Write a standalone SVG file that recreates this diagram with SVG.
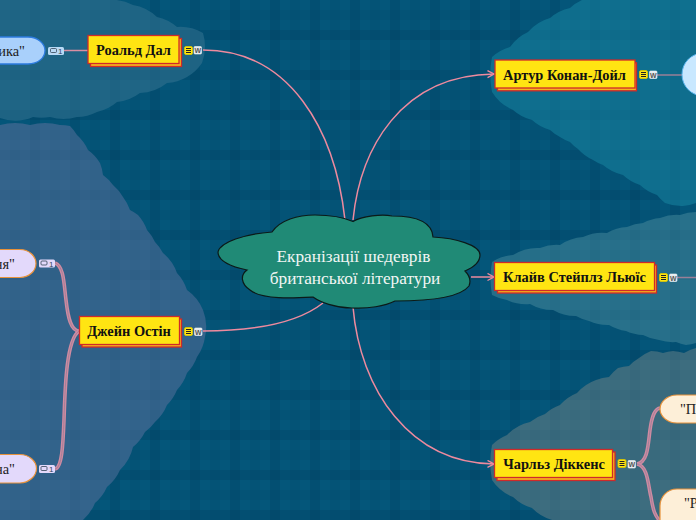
<svg xmlns="http://www.w3.org/2000/svg" width="696" height="520" viewBox="0 0 696 520">
<defs>
<pattern id="plaid" width="40" height="40" patternUnits="userSpaceOnUse">
<rect width="40" height="40" fill="#04567a"/>
<rect x="30" y="0" width="10" height="40" fill="#023a58" opacity="0.16"/>
<rect x="10" y="0" width="10" height="40" fill="#023a58" opacity="0.07"/>
<rect x="0" y="30" width="40" height="10" fill="#023a58" opacity="0.16"/>
<rect x="0" y="10" width="40" height="10" fill="#023a58" opacity="0.07"/>
</pattern>
<pattern id="plaidOver" width="40" height="40" patternUnits="userSpaceOnUse">
<rect x="30" y="0" width="10" height="40" fill="#023a58" opacity="0.06"/>
<rect x="10" y="0" width="10" height="40" fill="#023a58" opacity="0.03"/>
<rect x="0" y="30" width="40" height="10" fill="#023a58" opacity="0.06"/>
<rect x="0" y="10" width="40" height="10" fill="#023a58" opacity="0.03"/>
</pattern>
<marker id="arrow" markerWidth="9" markerHeight="10" refX="7.500" refY="4" orient="auto" markerUnits="userSpaceOnUse">
<path d="M1 0.500L7.500 4L1 7.500" fill="none" stroke="#ee8a9e" stroke-width="1.400"/>
</marker>
</defs>
<style>
.topic{fill:#ffe512;stroke:#cf2a2a;stroke-width:1.3}
.shadow{fill:#f6b51c;stroke:#cf2a2a;stroke-width:1.3}
.label{font-family:"Liberation Serif",serif;font-weight:bold;font-size:14.4px;fill:#111;text-anchor:middle}
.sub{font-family:"Liberation Serif",serif;font-size:14.4px;fill:#222}
.root{font-family:"Liberation Serif",serif;font-size:17.300px;fill:#f2f6f4;text-anchor:middle}
.link{fill:none;stroke:#ee8a9e;stroke-width:1.500}
.branch{fill:none;stroke:#cf8ba2;stroke-width:3.600}
.branchin{fill:none;stroke:#9a7d96;stroke-width:0.800}
.note{fill:#ffe512;stroke:#dcc800;stroke-width:0.800}
.noteline{stroke:#222;stroke-width:1;fill:none}
.wbox{fill:#e6ecef;stroke:#f6f8f9;stroke-width:0.600}
.w{font-family:"Liberation Sans",sans-serif;font-size:7px;fill:#555;text-anchor:middle;font-weight:bold}
.cnt{font-family:"Liberation Sans",sans-serif;font-size:8px;fill:#345}
.bub{fill:none;stroke:#345;stroke-width:0.800}
</style>
<rect width="696" height="520" fill="url(#plaid)"/>
<g id="regions">
<path d="M0 0H117A45 45 0 0 1 133 5A45 45 0 0 1 157 17A45 45 0 0 1 177 27A45 45 0 0 1 203 33A45 45 0 0 1 205 47A45 45 0 0 1 202 63A45 45 0 0 1 187 77A45 45 0 0 1 167 83A45 45 0 0 1 140 93A45 45 0 0 1 117 102A45 45 0 0 1 97 112A45 45 0 0 1 77 117A45 45 0 0 1 50 117A45 45 0 0 1 33 117A45 45 0 0 1 0 118Z" fill="#206686"/>
<path d="M0 125A60 60 0 0 1 30 125A60 60 0 0 1 60 125A45 45 0 0 1 70 126A45 45 0 0 1 77 135A45 45 0 0 1 88 150A45 45 0 0 1 100 163A45 45 0 0 1 103 175A45 45 0 0 1 113 185A45 45 0 0 1 123 197A45 45 0 0 1 130 210A45 45 0 0 1 138 215A45 45 0 0 1 147 230A45 45 0 0 1 155 242A45 45 0 0 1 163 253A45 45 0 0 1 177 273A45 45 0 0 1 187 290A45 45 0 0 1 203 310A45 45 0 0 1 205 337A45 45 0 0 1 197 357A45 45 0 0 1 187 373A45 45 0 0 1 177 390A45 45 0 0 1 167 405A45 45 0 0 1 155 422A45 45 0 0 1 145 432A45 45 0 0 1 133 447A45 45 0 0 1 120 470A45 45 0 0 1 107 487A45 45 0 0 1 95 503A45 45 0 0 1 83 520H0Z" fill="#34648c"/>
<path d="M582 0H696V203A45 45 0 0 1 683 206A45 45 0 0 1 665 203A45 45 0 0 1 657 195A45 45 0 0 1 640 185A45 45 0 0 1 623 175A45 45 0 0 1 612 171A45 45 0 0 1 603 165A45 45 0 0 1 593 160A45 45 0 0 1 578 149A45 45 0 0 1 570 142A45 45 0 0 1 560 137A45 45 0 0 1 550 130A45 45 0 0 1 532 120A45 45 0 0 1 513 110A45 45 0 0 1 492 92A90 90 0 0 1 492 57A45 45 0 0 1 510 47A45 45 0 0 1 528 32A45 45 0 0 1 550 18A45 45 0 0 1 570 8A45 45 0 0 1 582 0Z" fill="#0f708f"/>
<path d="M696 212A45 45 0 0 0 680 215A45 45 0 0 0 660 218A45 45 0 0 0 643 223A45 45 0 0 0 627 227A45 45 0 0 0 607 233A45 45 0 0 0 583 237A45 45 0 0 0 560 245A45 45 0 0 0 540 248A45 45 0 0 0 513 255A45 45 0 0 0 492 262A90 90 0 0 0 492 295A45 45 0 0 0 507 300A45 45 0 0 0 530 304A45 45 0 0 0 553 310A45 45 0 0 0 576 316A45 45 0 0 0 589 321A45 45 0 0 0 609 325A45 45 0 0 0 626 331A45 45 0 0 0 643 335A45 45 0 0 0 659 340A45 45 0 0 0 676 342A45 45 0 0 0 686 345A45 45 0 0 0 696 343Z" fill="#28718b"/>
<path d="M696 348A45 45 0 0 0 684 353A45 45 0 0 0 673 351A45 45 0 0 0 663 353A45 45 0 0 0 651 351A45 45 0 0 0 639 358A45 45 0 0 0 629 366A45 45 0 0 0 618 368A45 45 0 0 0 609 377A45 45 0 0 0 596 380A45 45 0 0 0 577 393A45 45 0 0 0 560 405A45 45 0 0 0 545 414A45 45 0 0 0 530 422A45 45 0 0 0 507 435A45 45 0 0 0 492 445A90 90 0 0 0 492 480A45 45 0 0 0 513 497A45 45 0 0 0 532 508A45 45 0 0 0 552 520H696Z" fill="#3d6d7f"/>
<rect width="696" height="520" fill="url(#plaidOver)"/>
</g>
<g id="connectors">
<path class="link" d="M345 220C335 130 290 50 203 50"/>
<path class="link" d="M353 220C360 150 400 75 494 74" marker-end="url(#arrow)"/>
<path class="link" d="M323 303C295 325 250 331 203 331"/>
<path class="link" d="M471 277H494" marker-end="url(#arrow)"/>
<path class="link" d="M353 307C360 390 410 463 494 464" marker-end="url(#arrow)"/>
<path d="M64 50.500H88" fill="none" stroke="#d98ea2" stroke-width="1.500"/>
<path class="branch" d="M55 263C64 266 64 285 66 300C68 318 71 331 79 331"/>
<path class="branchin" d="M55 263C64 266 64 285 66 300C68 318 71 331 79 331"/>
<path class="branch" d="M55 469C62 468 63 445 64 420C65 390 66 340 79 331"/>
<path class="branchin" d="M55 469C62 468 63 445 64 420C65 390 66 340 79 331"/>
<path d="M657 75H683" fill="none" stroke="#9a7f97" stroke-width="1.500"/>
<path d="M677 277.500H696" fill="none" stroke="#9a7f97" stroke-width="1.500"/>
<path class="branch" d="M637 464C648 462 648 445 650 430C652 415 655 409 660 408"/>
<path class="branchin" d="M637 464C648 462 648 445 650 430C652 415 655 409 660 408"/>
<path class="branch" d="M637 464C648 466 648 485 651 497C653 510 655 516 660 521"/>
<path class="branchin" d="M637 464C648 466 648 485 651 497C653 510 655 516 660 521"/>
</g>
<g id="root">
<path d="M353 221.500C362 216 382 214 392 216C412 216 432 220 433 237C455 238 480 245 480 255C480 263 472 268 465 271C470 276 471 281 469 286C462 295 440 301 395 301C385 306 368 309 352 308C335 308 320 302 313 297C295 298 262 300 250 290C241 284 240 275 247 270C228 266 218 260 218 252C220 242 245 234 272 232C280 220 298 215 315 215C330 215 345 218 353 221.500Z" fill="#208a76" stroke="#0c1a18" stroke-width="1.200"/>
<text class="root" x="353.500" y="262">Екранізації шедеврів</text>
<text class="root" x="355" y="284">британської літератури</text>
</g>
<g id="roald">
<rect class="shadow" x="90.500" y="38.500" width="91" height="28"/>
<rect class="topic" x="88" y="35.500" width="91" height="28"/>
<text class="label" x="133.500" y="54.500">Роальд Дал</text>
<rect class="note" x="184.500" y="46.500" width="8" height="8" rx="1.500"/>
<path class="noteline" d="M186 48.500h5M186 50.500h5M186 52.500h5"/>
<rect class="wbox" x="194" y="46.500" width="7.500" height="7.500" rx="1"/>
<text class="w" x="197.800" y="53">W</text>
</g>
<g id="roald-sub">
<path d="M-20 37H28C38 37 45 44 45 50.500C45 58 38 64 28 64H-20Z" fill="#a9d0fb" stroke="#2c7be0" stroke-width="1.300"/>
<text class="sub" x="25" y="56" text-anchor="end">ика"</text>
<rect x="48" y="47" width="16" height="8" rx="1.500" fill="#b9daf5"/>
<rect class="bub" x="50.500" y="48.500" width="6" height="4" rx="1"/>
<text class="cnt" x="58" y="54">1</text>
</g>
<g id="conan">
<rect class="shadow" x="497.500" y="62.800" width="139" height="28"/>
<rect class="topic" x="495" y="60" width="140" height="28"/>
<text class="label" x="564.500" y="79.500">Артур Конан-Дойл</text>
<rect class="note" x="639.500" y="70.500" width="8" height="8" rx="1.500"/>
<path class="noteline" d="M641 72.500h5M641 74.500h5M641 76.500h5"/>
<rect class="wbox" x="649.500" y="71" width="7.500" height="7.500" rx="1"/>
<text class="w" x="653.300" y="77.500">W</text>
</g>
<g id="conan-sub">
<rect x="682" y="53" width="60" height="43" rx="21.500" fill="#c8e8ff" stroke="#5cb6ee" stroke-width="1"/>
</g>
<g id="lewis">
<rect class="shadow" x="497.500" y="265" width="159" height="28"/>
<rect class="topic" x="494.500" y="262.500" width="160" height="28"/>
<text class="label" x="574.500" y="282">Клайв Стейплз Льюїс</text>
<rect class="note" x="659.500" y="273.500" width="8" height="8" rx="1.500"/>
<path class="noteline" d="M661 275.500h5M661 277.500h5M661 279.500h5"/>
<rect class="wbox" x="669.500" y="274" width="7.500" height="7.500" rx="1"/>
<text class="w" x="673.300" y="280.500">W</text>
</g>
<g id="austen">
<rect class="shadow" x="82" y="319" width="99.500" height="28"/>
<rect class="topic" x="79.500" y="316.500" width="100" height="28"/>
<text class="label" x="129" y="335.500">Джейн Остін</text>
<rect class="note" x="184.500" y="327.500" width="8" height="8" rx="1.500"/>
<path class="noteline" d="M186 329.500h5M186 331.500h5M186 333.500h5"/>
<rect class="wbox" x="194.500" y="328" width="7.500" height="7.500" rx="1"/>
<text class="w" x="198.300" y="334.500">W</text>
</g>
<g id="austen-sub1">
<path d="M-20 249.500H20C29 249.500 36 256 36 263.500C36 271 29 277.500 20 277.500H-20Z" fill="#e3d9fb" stroke="#e8923a" stroke-width="1.200"/>
<text class="sub" x="15" y="269" text-anchor="end">ня"</text>
<rect x="39" y="259.500" width="16" height="8" rx="1.500" fill="#e3d9fb"/>
<rect class="bub" x="41" y="261" width="6" height="4" rx="1"/>
<text class="cnt" x="49" y="266.500">1</text>
</g>
<g id="austen-sub2">
<path d="M-20 454.500H20C29 454.500 36.500 461 36.500 468.500C36.500 476 29 483 20 483H-20Z" fill="#e3d9fb" stroke="#e8923a" stroke-width="1.200"/>
<text class="sub" x="15" y="474" text-anchor="end">на"</text>
<rect x="39" y="465" width="16" height="8" rx="1.500" fill="#e3d9fb"/>
<rect class="bub" x="41" y="466.500" width="6" height="4" rx="1"/>
<text class="cnt" x="49" y="472">1</text>
</g>
<g id="dickens">
<rect class="shadow" x="497" y="452" width="118" height="28.500"/>
<rect class="topic" x="494.500" y="449.500" width="118" height="28"/>
<text class="label" x="554" y="468.500">Чарльз Діккенс</text>
<rect class="note" x="618" y="459.500" width="8" height="8" rx="1.500"/>
<path class="noteline" d="M619.500 461.500h5M619.500 463.500h5M619.500 465.500h5"/>
<rect class="wbox" x="628" y="460.500" width="7.500" height="7.500" rx="1"/>
<text class="w" x="631.800" y="467">W</text>
</g>
<g id="dickens-sub1">
<path d="M716 395H677C667 395 660 402 660 409C660 416 667 423 677 423H716Z" fill="#fdefd8" stroke="#e8923a" stroke-width="1.200"/>
<text class="sub" x="680" y="414">"П</text>
</g>
<g id="dickens-sub2">
<path d="M716 489H677C667 489 660 497 660 506V530H716Z" fill="#fdefd8" stroke="#e8923a" stroke-width="1.200"/>
<text class="sub" x="684" y="508">"Р</text>
</g>
</svg>
